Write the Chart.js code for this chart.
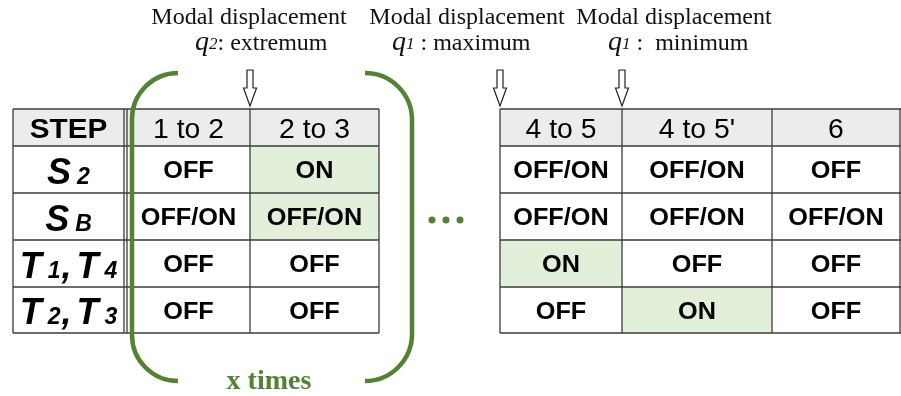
<!DOCTYPE html>
<html>
<head>
<meta charset="utf-8">
<script src="https://cdn.jsdelivr.net/npm/chart.js@4.4.1/dist/chart.umd.min.js"></script>
<style>
	body { margin: 0; background: #fff; }
</style>
</head>
<body>
<canvas id="Tabla" width="901" height="396"></canvas>
<script>
// table content
const steps = ["1 to 2", "2 to 3", "4 to 5", "4 to 5'", "6"];
const switches = ["S_2", "S_B", "T_1,T_4", "T_2,T_3"];
const stateS2 = ["OFF", "ON", "OFF/ON", "OFF/ON", "OFF"];
const stateSB = ["OFF/ON", "OFF/ON", "OFF/ON", "OFF/ON", "OFF/ON"];
const stateT14 = ["OFF", "OFF", "ON", "OFF", "OFF"];
const stateT23 = ["OFF", "OFF", "OFF", "ON", "OFF"];
const activeS2 = [0, 1, 0, 0, 0];
const activeSB = [0, 1, 0, 0, 0];
const activeT14 = [0, 0, 1, 0, 0];
const activeT23 = [0, 0, 0, 1, 0];

// notes above the table
const noteTitle = ["Modal displacement", "Modal displacement", "Modal displacement"];
const noteSub = ["2", "1", "1"];
const noteText = [": extremum", " : maximum", " :  minimum"];
const noteStep = [1, 2, 3]; // arrow points at the left edge of this step
const repeatLabel = "x times";

// layout (scale units = canvas px)
const labelCol = [13, 124];
const stepLeft = [127, 250, 500, 622, 772];
const stepRight = [250, 379, 622, 772, 900];
const rowEdges = [109, 146, 193, 240, 287, 333];
const noteX = [249, 467, 674];
const noteX2 = [195, 392, 608];

const GREEN = "#548235";
const LINE = "#3c3c3c";

const stateRows = [stateS2, stateSB, stateT14, stateT23];
const activeRows = [activeS2, activeSB, activeT14, activeT23];

let cells = [];
stateRows.forEach((row, r) => {
	row.forEach((state, c) => {
		cells.push({
			x: (stepLeft[c] + stepRight[c]) / 2,
			y: (rowEdges[r + 1] + rowEdges[r + 2]) / 2,
			state: state,
			active: activeRows[r][c],
			r: r,
			c: c
		});
	});
});

function stretchText(ctx, text, cx, base, font, sx) {
	ctx.save();
	ctx.font = font;
	ctx.translate(cx, base);
	ctx.scale(sx, 1);
	ctx.textAlign = "center";
	ctx.fillText(text, 0, 0);
	ctx.restore();
}

function switchLabel(ctx, label, cx, base) {
	const mainFont = "italic bold 36px 'Liberation Sans'";
	const subFont = "italic bold 23px 'Liberation Sans'";
	let parts = [];
	label.split(",").forEach((piece, i) => {
		const [main, sub] = piece.split("_");
		if (i > 0) parts.push({ t: ",", f: mainFont, g: 1 });
		parts.push({ t: main, f: mainFont, g: i > 0 ? 5 : 0 });
		parts.push({ t: sub, f: subFont, g: 6 });
	});
	let w = 0;
	parts.forEach(p => {
		ctx.font = p.f;
		p.w = ctx.measureText(p.t).width;
		w += p.g + p.w;
	});
	let xx = cx - w / 2;
	ctx.textAlign = "left";
	parts.forEach(p => {
		xx += p.g;
		ctx.font = p.f;
		ctx.fillText(p.t, xx, base);
		xx += p.w;
	});
}

function hollowArrow(ctx, ax, top, neck, tip) {
	ctx.beginPath();
	ctx.moveTo(ax - 3, top);
	ctx.lineTo(ax + 3, top);
	ctx.lineTo(ax + 3, neck);
	ctx.lineTo(ax + 6.5, neck);
	ctx.lineTo(ax, tip);
	ctx.lineTo(ax - 6.5, neck);
	ctx.lineTo(ax - 3, neck);
	ctx.closePath();
	ctx.fillStyle = "#fff";
	ctx.fill();
	ctx.strokeStyle = "#222";
	ctx.lineWidth = 1.2;
	ctx.stroke();
}

const tablePlugin = {
	id: "tablePlugin",
	beforeDatasetsDraw(chart) {
		const ctx = chart.ctx;
		const px = v => chart.scales.x.getPixelForValue(v);
		const py = v => chart.scales.y.getPixelForValue(v);

		ctx.save();
		// header fill
		ctx.fillStyle = "#ececec";
		ctx.fillRect(px(labelCol[0]), py(rowEdges[0]), px(stepRight[1]) - px(labelCol[0]), py(rowEdges[1]) - py(rowEdges[0]));
		ctx.fillRect(px(stepLeft[2]), py(rowEdges[0]), px(stepRight[4]) - px(stepLeft[2]), py(rowEdges[1]) - py(rowEdges[0]));

		// active cells
		ctx.fillStyle = "#e2efda";
		cells.forEach(cell => {
			if (!cell.active) return;
			ctx.fillRect(px(stepLeft[cell.c]), py(rowEdges[cell.r + 1]),
				px(stepRight[cell.c]) - px(stepLeft[cell.c]), py(rowEdges[cell.r + 2]) - py(rowEdges[cell.r + 1]));
		});

		// grid
		ctx.strokeStyle = LINE;
		ctx.lineWidth = 1.3;
		ctx.beginPath();
		rowEdges.forEach(e => {
			ctx.moveTo(px(labelCol[0]), py(e));
			ctx.lineTo(px(stepRight[1]), py(e));
			ctx.moveTo(px(stepLeft[2]), py(e));
			ctx.lineTo(px(stepRight[4]) + 1, py(e));
		});
		[labelCol[0], labelCol[1], stepLeft[0], stepLeft[1], stepRight[1], stepLeft[2], stepLeft[3], stepLeft[4], stepRight[4]].forEach(e => {
			ctx.moveTo(px(e), py(rowEdges[0]));
			ctx.lineTo(px(e), py(rowEdges[5]));
		});
		ctx.stroke();

		// header text
		ctx.fillStyle = "#000";
		stretchText(ctx, "STEP", px((labelCol[0] + labelCol[1]) / 2), py(rowEdges[0]) + 29, "bold 27px 'Liberation Sans'", 1.1);
		steps.forEach((s, c) => {
			stretchText(ctx, s, px((stepLeft[c] + stepRight[c]) / 2), py(rowEdges[0]) + 29, "27px 'Liberation Sans'", 1.05);
		});

		// switch names
		switches.forEach((s, r) => {
			const mid = (py(rowEdges[r + 1]) + py(rowEdges[r + 2])) / 2;
			switchLabel(ctx, s, px((labelCol[0] + labelCol[1]) / 2), mid + 14);
		});

		// notes and arrows
		noteTitle.forEach((t, i) => {
			ctx.fillStyle = "#111";
			ctx.textAlign = "center";
			ctx.font = "24px 'Liberation Serif'";
			ctx.fillText(t, px(noteX[i]), py(24));
			let xx = px(noteX2[i]);
			ctx.textAlign = "left";
			ctx.font = "italic 28px 'Liberation Serif'";
			ctx.fillText("q", xx, py(50));
			xx += ctx.measureText("q").width;
			ctx.font = "italic 17px 'Liberation Serif'";
			ctx.fillText(noteSub[i], xx, py(49));
			xx += ctx.measureText(noteSub[i]).width;
			ctx.font = "24px 'Liberation Serif'";
			ctx.fillText(noteText[i], xx, py(50));
			hollowArrow(ctx, px(stepLeft[noteStep[i]]), py(70), py(88), py(106));
		});

		// brackets for the repeated steps
		ctx.strokeStyle = GREEN;
		ctx.lineWidth = 4.5;
		ctx.beginPath();
		ctx.arc(px(178), py(119), 46, -Math.PI / 2, Math.PI, true);
		ctx.lineTo(px(132), py(335));
		ctx.arc(px(178), py(335), 46, Math.PI, Math.PI / 2, true);
		ctx.stroke();
		ctx.beginPath();
		ctx.arc(px(365), py(120), 47, -Math.PI / 2, 0, false);
		ctx.lineTo(px(412), py(334));
		ctx.arc(px(365), py(334), 47, 0, Math.PI / 2, false);
		ctx.stroke();

		ctx.fillStyle = GREEN;
		ctx.textAlign = "center";
		ctx.font = "bold 28px 'Liberation Serif'";
		ctx.fillText(repeatLabel, px(269), py(389));

		// ellipsis between the two parts
		[432, 446, 460].forEach(d => {
			ctx.beginPath();
			ctx.arc(px(d), py(220), 3.5, 0, Math.PI * 2);
			ctx.fill();
		});
		ctx.restore();
	},
	afterDatasetsDraw(chart) {
		const ctx = chart.ctx;
		const meta = chart.getDatasetMeta(0);
		ctx.save();
		ctx.fillStyle = "#000";
		meta.data.forEach((pt, i) => {
			stretchText(ctx, cells[i].state, pt.x, pt.y + 8.5, "bold 23px 'Liberation Sans'", 1.1);
		});
		ctx.restore();
	}
};

const ctx = document.getElementById("Tabla").getContext("2d");
let Tabla = new Chart(ctx, {
	type: "scatter",
	data: {
		datasets: [{
			label: "states",
			data: cells,
			pointRadius: 0,
			pointHoverRadius: 0
		}]
	},
	options: {
		responsive: false,
		animation: false,
		layout: { padding: 0 },
		plugins: {
			legend: { display: false },
			tooltip: { enabled: false }
		},
		scales: {
			x: { type: "linear", min: 0, max: 901, display: false },
			y: { type: "linear", min: 0, max: 396, reverse: true, display: false }
		}
	},
	plugins: [tablePlugin]
});
</script>
</body>
</html>
